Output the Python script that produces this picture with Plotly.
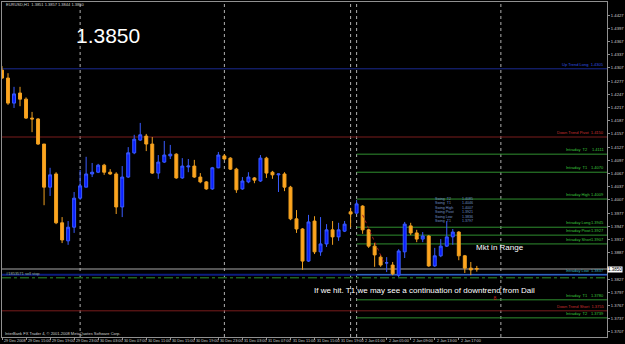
import plotly.graph_objects as go

# ---------------- data (EURUSD, H1) ----------------
bar_index = list(range(80))
opens = [1.4302, 1.4284, 1.4227, 1.4250, 1.4236, 1.4193, 1.4191, 1.4134, 1.4036, 1.4066,
         1.3955, 1.3914, 1.3945, 1.4011, 1.4036, 1.4066, 1.4070, 1.4086, 1.4070, 1.4066,
         1.3991, 1.4059, 1.4114, 1.4143, 1.4152, 1.4134, 1.4068, 1.4093, 1.4107, 1.4111,
         1.4057, 1.4082, 1.4084, 1.4059, 1.4048, 1.4032, 1.4080, 1.4107, 1.4102, 1.4077,
         1.4032, 1.4048, 1.4057, 1.4050, 1.4102, 1.4070, 1.4064, 1.4066, 1.4036, 1.3964,
         1.3941, 1.3868, 1.3959, 1.3889, 1.3907, 1.3939, 1.3923, 1.3936, 1.3980, 1.3977,
         1.3993, 1.3939, 1.3902, 1.3877, 1.3864, 1.3859, 1.3836, 1.3889, 1.3948, 1.3932,
         1.3918, 1.3925, 1.3857, 1.3880, 1.3902, 1.3923, 1.3934, 1.3880, 1.3852, 1.3851]
highs = [1.4311, 1.4295, 1.4264, 1.4264, 1.4240, 1.4207, 1.4193, 1.4134, 1.4080, 1.4070,
         1.3968, 1.3959, 1.4025, 1.4075, 1.4105, 1.4091, 1.4089, 1.4089, 1.4077, 1.4070,
         1.4084, 1.4127, 1.4155, 1.4182, 1.4157, 1.4150, 1.4109, 1.4141, 1.4132, 1.4113,
         1.4102, 1.4100, 1.4098, 1.4068, 1.4050, 1.4082, 1.4116, 1.4111, 1.4104, 1.4080,
         1.4059, 1.4070, 1.4059, 1.4109, 1.4105, 1.4073, 1.4067, 1.4070, 1.4039, 1.3984,
         1.3943, 1.3973, 1.3970, 1.3968, 1.3952, 1.3959, 1.3955, 1.3959, 1.3989, 1.4007,
         1.3995, 1.3941, 1.3909, 1.3882, 1.3877, 1.3866, 1.3895, 1.3957, 1.3955, 1.3939,
         1.3934, 1.3927, 1.3898, 1.3918, 1.3959, 1.3941, 1.3936, 1.3882, 1.3866, 1.3857]
lows = [1.4282, 1.4223, 1.4216, 1.4220, 1.4191, 1.4161, 1.4132, 1.3995, 1.4016, 1.3952,
        1.3909, 1.3905, 1.3932, 1.4007, 1.4036, 1.4059, 1.4068, 1.4064, 1.4064, 1.3975,
        1.3968, 1.4057, 1.4111, 1.4141, 1.4118, 1.4066, 1.4055, 1.4091, 1.4100, 1.4055,
        1.4055, 1.4070, 1.4057, 1.4045, 1.4030, 1.4030, 1.4079, 1.4098, 1.4075, 1.4023,
        1.4030, 1.4045, 1.4045, 1.4048, 1.4057, 1.4055, 1.4025, 1.4027, 1.3961, 1.3932,
        1.3848, 1.3866, 1.3884, 1.3880, 1.3900, 1.3905, 1.3914, 1.3934, 1.3945, 1.3976,
        1.3930, 1.3898, 1.3855, 1.3855, 1.3843, 1.3836, 1.3832, 1.3875, 1.3927, 1.3911,
        1.3911, 1.3855, 1.3855, 1.3877, 1.3900, 1.3905, 1.3870, 1.3841, 1.3836, 1.3844]
closes = [1.4284, 1.4227, 1.4248, 1.4236, 1.4193, 1.4191, 1.4134, 1.4036, 1.4064, 1.3955,
          1.3916, 1.3945, 1.4011, 1.4039, 1.4066, 1.4070, 1.4086, 1.4070, 1.4066, 1.3991,
          1.4059, 1.4114, 1.4145, 1.4155, 1.4134, 1.4068, 1.4093, 1.4109, 1.4111, 1.4057,
          1.4084, 1.4084, 1.4059, 1.4048, 1.4032, 1.4080, 1.4109, 1.4100, 1.4077, 1.4030,
          1.4050, 1.4059, 1.4052, 1.4102, 1.4068, 1.4064, 1.4066, 1.4036, 1.3964, 1.3941,
          1.3868, 1.3957, 1.3889, 1.3907, 1.3939, 1.3923, 1.3939, 1.3952, 1.3975, 1.3998,
          1.3939, 1.3902, 1.3882, 1.3859, 1.3864, 1.3839, 1.3891, 1.3952, 1.3932, 1.3918,
          1.3925, 1.3857, 1.3880, 1.3902, 1.3923, 1.3934, 1.3880, 1.3852, 1.3848, 1.3850]

x_tick_index = [0, 4, 8, 12, 16, 20, 24, 28, 32, 36, 40, 44, 48, 52, 56, 60, 64, 68, 72, 76]
x_tick_labels = ["29 Dec 2008", "29 Dec 15:00", "29 Dec 19:00", "29 Dec 23:00", "30 Dec 03:00",
                 "30 Dec 07:00", "30 Dec 11:00", "30 Dec 15:00", "30 Dec 19:00", "30 Dec 23:00",
                 "31 Dec 03:00", "31 Dec 07:00", "31 Dec 11:00", "31 Dec 15:00", "31 Dec 19:00",
                 "2 Jan 01:00", "2 Jan 05:00", "2 Jan 09:00", "2 Jan 13:00", "2 Jan 17:00"]
y_ticks = [1.3707, 1.3737, 1.3767, 1.3797, 1.3827, 1.3887, 1.3917, 1.3947, 1.3977,
           1.4007, 1.4037, 1.4067, 1.4097, 1.4127, 1.4157, 1.4187, 1.4217, 1.4247, 1.4277,
           1.4307, 1.4337, 1.4367, 1.4397, 1.4427]

day_separators = [13, 37, 58, 59, 83]

trend_names = ["Up Trend Long", "Down Trend Pivot", "Down Trend Short"]
trend_values = [1.4305, 1.4150, 1.3755]

intraday_start = 59
intraday_names = ["Intraday  T2", "Intraday  T1", "Intraday High", "Intraday Long", "Intraday Pivot",
                  "Intraday Short", "Intraday Low", "Intraday  T1", "Intraday  T2"]
intraday_values = [1.4111, 1.4070, 1.4009, 1.3945, 1.3927, 1.3907, 1.3837, 1.3780, 1.3739]

swing_names = ["Swing  T2", "Swing  T1", "Swing High", "Swing Pivot", "Swing Low", "Swing  T1"]
swing_values = [1.4085, 1.4046, 1.4007, 1.3921, 1.3836, 1.3797]

bid_price = 1.3850
order_price = 1.3830
order_label = "#1853571 sell stop"
trend_x = [60, 63.5]
trend_y = [1.3973, 1.3866]
signal_x = [82]
signal_y = [1.3782]

header = "EURUSD,H1  1.3851 1.3857 1.3844 1.3850"
big_price = "1.3850"
note1 = "Mkt in Range"
note2 = "If we hit. T1 we may see a continuation of downtrend from Dail"
copyright_txt = "InterBank FX Trader 4, \u00a9 2001-2008 MetaQuotes Software Corp."

# ---------------- layout geometry ----------------
W, H = 625, 344
ML, MR, MT, MB = 1, 15, 2, 7
PW, PH = W - ML - MR, H - MT - MB
X_RANGE = [0, 100.66]
Y_RANGE = [1.36955, 1.44568]


def px(x):
    return (x - ML) / PW


def py(y):
    return (H - MB - y) / PH


SMALL = "Liberation Sans"
GREEN_LINE = "#2f8f2f"
GREEN_TXT = "#3cc83c"

fig = go.Figure()
fig.add_trace(go.Candlestick(
    x=bar_index, open=opens, high=highs, low=lows, close=closes,
    increasing=dict(line=dict(color="#3a5cff", width=1), fillcolor="#0a1eff"),
    decreasing=dict(line=dict(color="#f0a020", width=1), fillcolor="#ffa51e"),
    whiskerwidth=0, hoverinfo="skip", showlegend=False))

fig.add_trace(go.Scatter(x=trend_x, y=trend_y, mode="lines",
                         line=dict(color="#a02020", width=1, dash="dot"),
                         hoverinfo="skip", showlegend=False))
fig.add_trace(go.Scatter(x=signal_x, y=signal_y, mode="text", text=["8"],
                         textfont=dict(color="#d02020", size=5, family=SMALL),
                         hoverinfo="skip", showlegend=False))

shapes = []
for d in day_separators:
    shapes.append(dict(type="line", xref="x", yref="paper", x0=d, x1=d, y0=0, y1=1,
                       line=dict(color="#b0b0b0", width=1, dash="dot"), layer="below"))

trend_colors = ["#1a2a90", "#7a1c1c", "#7a1c1c"]
trend_txt_colors = ["#3050e0", "#d03030", "#d03030"]
annotations = []
for name, val, c, tc in zip(trend_names, trend_values, trend_colors, trend_txt_colors):
    shapes.append(dict(type="line", xref="paper", yref="y", x0=0, x1=1, y0=val, y1=val,
                       line=dict(color=c, width=1), layer="below"))
    annotations.append(dict(x=px(609), xref="paper", y=val, yref="y", xanchor="right",
                            yanchor="bottom", text=f"{name}  {val:.4f}", showarrow=False,
                            font=dict(family=SMALL, size=4, color=tc)))

# Intraday Low left part (navy), bid line, pending order line
shapes.append(dict(type="line", xref="paper", yref="y", x0=0, x1=1,
                   y0=intraday_values[6], y1=intraday_values[6],
                   line=dict(color="#0c1c80", width=2), layer="below"))
shapes.append(dict(type="line", xref="paper", yref="y", x0=0, x1=1, y0=bid_price, y1=bid_price,
                   line=dict(color="#a8a8a8", width=1), layer="below"))
shapes.append(dict(type="line", xref="paper", yref="y", x0=0, x1=1, y0=order_price, y1=order_price,
                   line=dict(color=GREEN_LINE, width=1, dash="dashdot"), layer="below"))

for name, val in zip(intraday_names, intraday_values):
    low = name.endswith("Low")
    lc = "#3a78c8" if low else GREEN_LINE
    tc = "#3ab0c0" if low else GREEN_TXT
    shapes.append(dict(type="line", xref="x", yref="y", x0=intraday_start, x1=X_RANGE[1],
                       y0=val, y1=val, line=dict(color=lc, width=1), layer="below"))
    annotations.append(dict(x=px(567), xref="paper", y=val, yref="y", xanchor="left",
                            yanchor="bottom", text=name, showarrow=False,
                            font=dict(family=SMALL, size=4, color=tc)))
    annotations.append(dict(x=px(609), xref="paper", y=val, yref="y", xanchor="right",
                            yanchor="bottom", text=f"{val:.4f}", showarrow=False,
                            font=dict(family=SMALL, size=4, color=tc)))

for k, (name, val) in enumerate(zip(swing_names, swing_values)):
    yy = 199 + k * 4.4
    annotations.append(dict(x=px(435), xref="paper", y=py(yy), yref="paper", xanchor="left",
                            yanchor="middle", text=name, showarrow=False,
                            font=dict(family=SMALL, size=3.6, color="#7090c8")))
    annotations.append(dict(x=px(477), xref="paper", y=py(yy), yref="paper", xanchor="right",
                            yanchor="middle", text=f"{val:.4f}", showarrow=False,
                            font=dict(family=SMALL, size=3.6, color="#7090c8")))

# x-axis labels (left aligned at the bar, MT4 style)
for idx, lab in zip(x_tick_index, x_tick_labels):
    annotations.append(dict(x=idx, xref="x", y=0, yref="paper", xanchor="left", yanchor="top",
                            yshift=0, text=lab, showarrow=False,
                            font=dict(family=SMALL, size=3.8, color="#d0d0d0")))

annotations += [
    dict(x=px(3), xref="paper", y=py(4.5), yref="paper", xanchor="left", yanchor="middle",
         text=header, showarrow=False, font=dict(family=SMALL, size=4, color="#d0d0d0")),
    dict(x=px(108), xref="paper", y=py(35), yref="paper", xanchor="center", yanchor="middle",
         text=big_price, showarrow=False, font=dict(family="Liberation Sans", size=21, color="#ffffff")),
    dict(x=px(502), xref="paper", y=py(247), yref="paper", xanchor="center", yanchor="middle",
         text=note1, showarrow=False, font=dict(family="Liberation Sans", size=8, color="#ffffff")),
    dict(x=px(313), xref="paper", y=py(290), yref="paper", xanchor="left", yanchor="middle",
         text=note2, showarrow=False, font=dict(family="Liberation Sans", size=8, color="#ffffff")),
    dict(x=px(2), xref="paper", y=py(333), yref="paper", xanchor="left", yanchor="middle",
         text=copyright_txt, showarrow=False, font=dict(family=SMALL, size=4, color="#d0d0d0")),
    dict(x=px(3), xref="paper", y=order_price, yref="y", xanchor="left", yanchor="bottom",
         text=order_label, showarrow=False, font=dict(family=SMALL, size=4, color="#9ab09a")),
    dict(x=1, xref="paper", y=bid_price, yref="y", xanchor="left", yanchor="middle",
         text=f"{bid_price:.4f}", showarrow=False, bgcolor="#ffffff", borderpad=0,
         font=dict(family=SMALL, size=4.5, color="#000000")),
]

fig.update_layout(
    width=W, height=H, autosize=False,
    margin=dict(l=ML, r=MR, t=MT, b=MB, pad=0),
    paper_bgcolor="#000000", plot_bgcolor="#000000",
    shapes=shapes, annotations=annotations, showlegend=False,
    xaxis=dict(range=X_RANGE, showgrid=False, zeroline=False, rangeslider=dict(visible=False),
               showline=True, mirror=True, linecolor="#909090", linewidth=1,
               tickvals=x_tick_index, ticks="outside", ticklen=2, tickcolor="#909090",
               showticklabels=False, fixedrange=True),
    yaxis=dict(range=Y_RANGE, side="right", showgrid=False, zeroline=False,
               showline=True, mirror=True, linecolor="#909090", linewidth=1,
               tickvals=y_ticks, tickformat=".4f", ticks="outside", ticklen=2,
               tickcolor="#909090", tickfont=dict(family=SMALL, size=4.2, color="#d0d0d0"),
               fixedrange=True),
)

fig.write_html("out.html")
